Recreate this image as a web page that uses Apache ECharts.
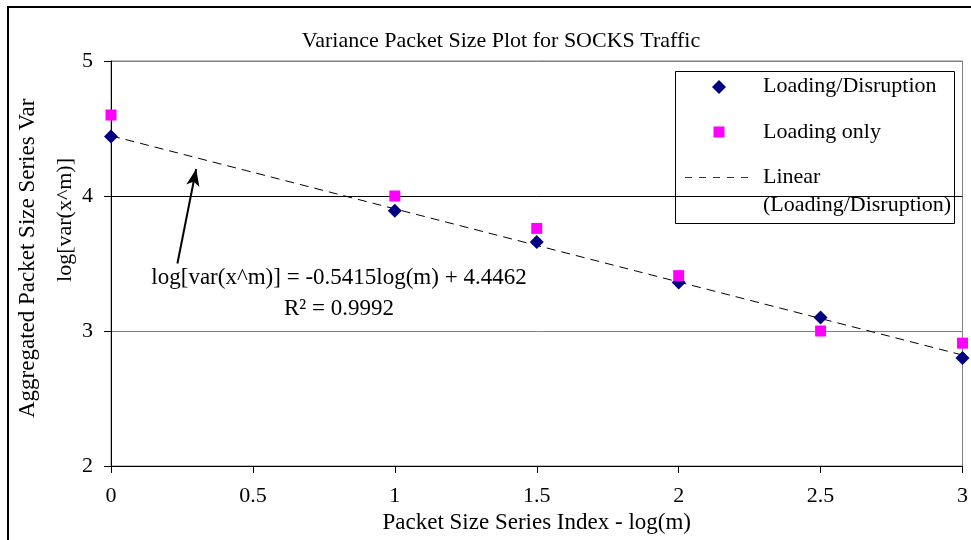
<!DOCTYPE html>
<html>
<head>
<meta charset="utf-8">
<script src="https://cdn.jsdelivr.net/npm/echarts@6/dist/echarts.min.js"></script>
<style>
  html, body { margin: 0; padding: 0; background: #fff; }
  #chart { width: 971px; height: 540px; }
</style>
</head>
<body>
<div id="chart"></div>
<script>
// log(m) positions of the aggregation levels
const logM = [0, 1, 1.5, 2, 2.5, 3];
// log variance of aggregated series
const loadingDisruption = [4.44, 3.89, 3.66, 3.36, 3.10, 2.80];
const loadingOnly = [4.60, 4.00, 3.76, 3.41, 3.00, 2.91];
// Fitted line for Loading/Disruption, as given in the equation label
const fitSlope = -0.5415;
const fitIntercept = 4.4462;
const fitR2 = 0.9992;
const xTicks = [0, 3, 0.5];   // min, max, step
const yTicks = [2, 5, 1];

const FONT = '"Liberation Serif", "Times New Roman", serif';

const diamondPts = logM.map((x, i) => [x, loadingDisruption[i]]);
const squarePts = logM.map((x, i) => [x, loadingOnly[i]]);
const fitPts = [xTicks[0], xTicks[1]].map(x => [x, fitIntercept + fitSlope * x]);

const chart = echarts.init(document.getElementById('chart'), null, { renderer: 'canvas' });

chart.setOption({
  backgroundColor: '#fff',
  animation: false,
  title: {
    text: 'Variance Packet Size Plot for SOCKS Traffic',
    left: 496,
    top: 25,
    textAlign: 'center',
    textStyle: { fontFamily: FONT, fontSize: 22, fontWeight: 'normal', color: '#000' }
  },
  grid: {
    left: 111, right: 4, top: 61, bottom: 74,
    show: true, borderColor: '#808080', borderWidth: 1, backgroundColor: 'transparent'
  },
  xAxis: {
    type: 'value',
    min: xTicks[0], max: xTicks[1], interval: xTicks[2],
    name: 'Packet Size Series Index - log(m)',
    nameLocation: 'middle',
    nameGap: 44,
    nameTextStyle: { fontFamily: FONT, fontSize: 23, color: '#000' },
    axisLine: { show: true, onZero: false, lineStyle: { color: '#000', width: 1 } },
    axisTick: { show: true, length: 7, lineStyle: { color: '#000' } },
    axisLabel: { fontFamily: FONT, fontSize: 22, color: '#000', margin: 19 },
    splitLine: { show: false }
  },
  yAxis: {
    type: 'value',
    min: yTicks[0], max: yTicks[1], interval: yTicks[2],
    axisLine: { show: true, onZero: false, lineStyle: { color: '#000', width: 1 } },
    axisTick: { show: true, length: 7, lineStyle: { color: '#000' } },
    axisLabel: { fontFamily: FONT, fontSize: 22, color: '#000', margin: 18 },
    splitLine: { show: true, lineStyle: { color: ['#000', '#808080', '#000', '#808080'], width: 1 } }
  },
  series: [
    {
      name: 'Linear (Loading/Disruption)',
      type: 'line',
      data: fitPts,
      symbol: 'none',
      z: 1,
      lineStyle: { color: '#000', width: 1, type: [9, 6] },
      markLine: {
        silent: true,
        symbol: ['none', 'arrow'],
        symbolSize: [10, 17],
        lineStyle: { color: '#000', width: 2, type: 'solid' },
        label: { show: false },
        data: [[{ coord: [0.234, 3.50] }, { coord: [0.30, 4.20] }]]
      }
    },
    {
      name: 'Loading/Disruption',
      type: 'scatter',
      data: diamondPts,
      symbol: 'diamond',
      symbolSize: [14, 14],
      z: 3,
      itemStyle: { color: '#000080', opacity: 1 }
    },
    {
      name: 'Loading only',
      type: 'scatter',
      data: squarePts,
      symbol: 'rect',
      symbolSize: [11, 11],
      z: 4,
      itemStyle: { color: '#FF00FF', opacity: 1 }
    }
  ],
  graphic: [
    // outer chart frame
    { type: 'rect', z: 0, silent: true,
      shape: { x: 8, y: 7, width: 1000, height: 600 },
      style: { fill: 'none', stroke: '#000', lineWidth: 2 } },
    // y axis title, two lines
    { type: 'text', x: 28, y: 418, rotation: Math.PI / 2, z: 10,
      style: { text: 'Aggregated Packet Size Series Var', fontFamily: FONT, fontSize: 23, fill: '#000',
               align: 'left', verticalAlign: 'middle', width: 322, overflow: 'truncate', ellipsis: '' } },
    { type: 'text', x: 65, y: 220, rotation: Math.PI / 2, z: 10,
      style: { text: 'log[var(x^m)]', fontFamily: FONT, fontSize: 22, fill: '#000',
               align: 'center', verticalAlign: 'middle' } },
    // trendline equation
    { type: 'text', x: 339, y: 278, z: 10,
      style: { text: 'log[var(x^m)] = ' + fitSlope + 'log(m) + ' + fitIntercept, fontFamily: FONT, fontSize: 23, fill: '#000',
               align: 'center', verticalAlign: 'middle' } },
    { type: 'text', x: 339, y: 309, z: 10,
      style: { text: 'R² = ' + fitR2, fontFamily: FONT, fontSize: 23, fill: '#000',
               align: 'center', verticalAlign: 'middle' } },
    // legend
    { type: 'group', z: 100, children: [
      { type: 'rect', shape: { x: 675.5, y: 71.5, width: 279, height: 152 },
        style: { fill: '#fff', stroke: '#000', lineWidth: 1 } },
      { type: 'polygon', shape: { points: [[719, 80], [726, 87], [719, 94], [712, 87]] },
        style: { fill: '#000080' } },
      { type: 'text', x: 763, y: 86,
        style: { text: 'Loading/Disruption', fontFamily: FONT, fontSize: 22, fill: '#000', align: 'left', verticalAlign: 'middle' } },
      { type: 'rect', shape: { x: 713.5, y: 126.5, width: 11, height: 11 },
        style: { fill: '#FF00FF' } },
      { type: 'text', x: 763, y: 132,
        style: { text: 'Loading only', fontFamily: FONT, fontSize: 22, fill: '#000', align: 'left', verticalAlign: 'middle' } },
      { type: 'line', shape: { x1: 685, y1: 177.5, x2: 755, y2: 177.5 },
        style: { stroke: '#333', lineWidth: 1, lineDash: [7, 7] } },
      { type: 'text', x: 763, y: 177,
        style: { text: 'Linear', fontFamily: FONT, fontSize: 22, fill: '#000', align: 'left', verticalAlign: 'middle' } },
      { type: 'text', x: 763, y: 205,
        style: { text: '(Loading/Disruption)', fontFamily: FONT, fontSize: 22, fill: '#000', align: 'left', verticalAlign: 'middle' } }
    ] }
  ]
});
</script>
</body>
</html>
